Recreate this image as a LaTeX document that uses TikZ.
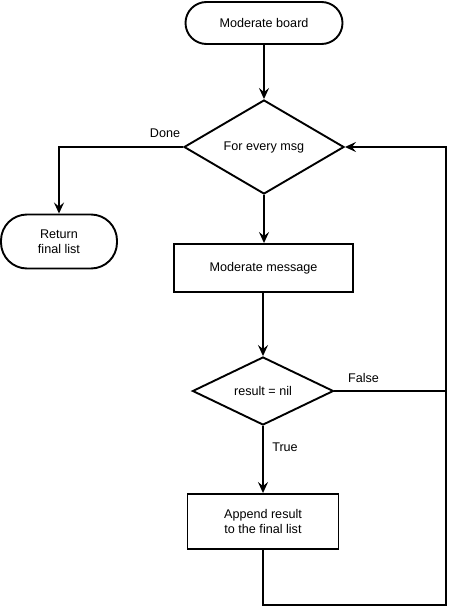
\documentclass[tikz,border=0pt]{standalone}
\usepackage{fontspec}
\setmainfont{Liberation Sans}
\usetikzlibrary{shapes.geometric,arrows.meta}
\begin{document}
\begin{tikzpicture}[x=1pt,y=-1pt,
  every node/.style={font=\fontsize{12.6}{15}\selectfont, align=center},
  lw/.style={line width=1.9pt},
  term/.style={lw, draw, rectangle, rounded corners=#1, inner sep=0pt},
  proc/.style={lw, draw, rectangle, inner sep=0pt},
  dec/.style={lw, draw, diamond, inner sep=0pt},
  arr/.style={lw, -{Stealth[length=11pt,width=10pt,inset=4pt]}},
  ln/.style={lw},
  lbl/.style={inner sep=0pt}]
\useasboundingbox (0,0) rectangle (448,607);
\node[term=21pt, minimum width=157pt, minimum height=42pt] (start) at (264,23) {Moderate board};
\node[dec, minimum width=160pt, minimum height=94pt, aspect=1.7] (d1) at (264,147) {For every msg};
\node[term=26pt, minimum width=116pt, minimum height=54pt] (ret) at (59,241.5) {Return\\final list};
\node[proc, minimum width=179pt, minimum height=48pt] (r1) at (263.5,268) {Moderate message};
\node[dec, minimum width=141pt, minimum height=68pt, aspect=2.07] (d2) at (263,391) {result = nil};
\node[proc, minimum width=151pt, minimum height=55pt] (r2) at (263,521.5) {Append result\\to the final list};
\coordinate (rc) at (446,391);
\coordinate (bc) at (446,605);
\draw[arr] (start) -- (d1);
\draw[arr] (d1.west) -| (ret.north);
\draw[arr] (d1.south) -- (d1.south |- r1.north);
\draw[arr] (r1.south -| d2.north) -- (d2.north);
\draw[arr] (d2) -- (r2);
\draw[ln] (d2.east) -- (rc);
\draw[arr] (rc) |- (d1.east);
\draw[ln] (r2.south) |- (bc) -- (rc);
\node[lbl] (done) at (165,133) {Done};
\node[lbl] (false) at (363.5,377.5) {False};
\node[lbl] (true) at (285,447.5) {True};
\end{tikzpicture}
\end{document}
